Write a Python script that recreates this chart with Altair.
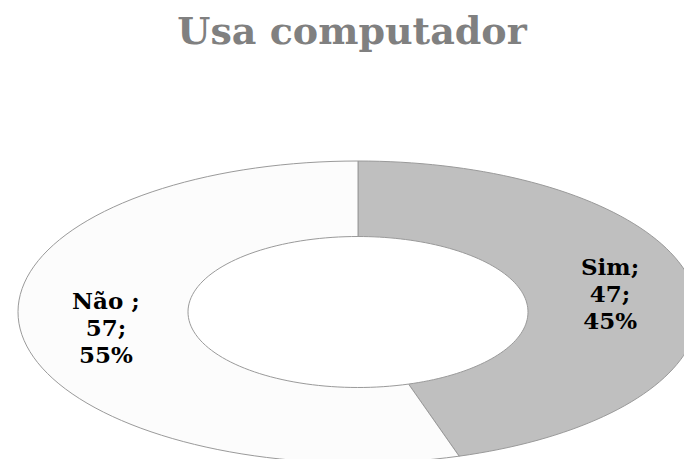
import altair as alt
import pandas as pd

# ---- data ----
categories = ["Sim", "Não"]
values = [47, 57]
label_names = ["Sim;", "Não ;"]
colors = ["#bfbfbf", "#fcfcfc"]
title_text = "Usa computador"

total = sum(values)
labels = [f"{n}\n{v};\n{round(100 * v / total)}%" for n, v in zip(label_names, values)]
df = pd.DataFrame({
    "category": categories,
    "value": values,
    "label": labels,
    "order": list(range(len(categories))),
})

# ---- layout ----
W, H = 676, 451
CX, CY = 350, 304      # ellipse centre inside plot area
RX, RY = 340, 151      # outer radii (horizontal, vertical)
INNER = 0.5
N = 90
LINE_H = 27

xscale = alt.Scale(domain=[-CX / RX, (W - CX) / RX], nice=False, zero=False)
yscale = alt.Scale(domain=[-(H - CY) / RY, CY / RY], nice=False, zero=False)

base = (
    alt.Chart(df)
    .transform_joinaggregate(total="sum(value)")
    .transform_window(cum="sum(value)", sort=[alt.SortField("order")])
    .transform_calculate(t1="2*PI*datum.cum/datum.total")
    .transform_calculate(t0="2*PI*(datum.cum-datum.value)/datum.total")
)

ring = (
    base.transform_calculate(idx=f"sequence(0, {2 * N + 2})")
    .transform_flatten(["idx"])
    .transform_calculate(frac=f"datum.idx <= {N} ? datum.idx/{N} : ({2 * N + 1}-datum.idx)/{N}")
    .transform_calculate(rr=f"datum.idx <= {N} ? 1 : {INNER}")
    .transform_calculate(th="datum.t0 + (datum.t1-datum.t0)*datum.frac")
    .transform_calculate(px="datum.rr*sin(datum.th)")
    .transform_calculate(py="datum.rr*cos(datum.th)")
    .mark_line(interpolate="linear-closed", filled=True, stroke="#9a9a9a", strokeWidth=1)
    .encode(
        x=alt.X("px:Q", scale=xscale, axis=None),
        y=alt.Y("py:Q", scale=yscale, axis=None),
        fill=alt.Fill("category:N", scale=alt.Scale(domain=categories, range=colors), legend=None),
        order=alt.Order("idx:Q"),
    )
)

text = (
    base.transform_calculate(mid="(datum.t0+datum.t1)/2")
    .transform_calculate(lx=f"{(1 + INNER) / 2}*sin(datum.mid)")
    .transform_calculate(ly=f"{(1 + INNER) / 2}*cos(datum.mid)")
    .mark_text(font="DejaVu Serif", fontWeight="bold", fontSize=23, lineBreak="\n",
               lineHeight=LINE_H, dy=-LINE_H, align="center", baseline="middle",
               color="#000000")
    .encode(
        x=alt.X("lx:Q", scale=xscale, axis=None),
        y=alt.Y("ly:Q", scale=yscale, axis=None),
        text="label:N",
    )
)

title = (
    alt.Chart(pd.DataFrame({"t": [title_text]}))
    .mark_text(font="DejaVu Serif", fontWeight="bold", fontSize=38, color="#808080",
               align="center", baseline="alphabetic")
    .encode(x=alt.value(344), y=alt.value(36), text="t:N")
)

chart = (
    alt.layer(ring, text, title)
    .properties(width=W, height=H, autosize=alt.AutoSizeParams(type="none"), padding=0)
    .configure_view(strokeWidth=0)
)

chart.save("out.html", embed_options={"renderer": "svg", "actions": False})
